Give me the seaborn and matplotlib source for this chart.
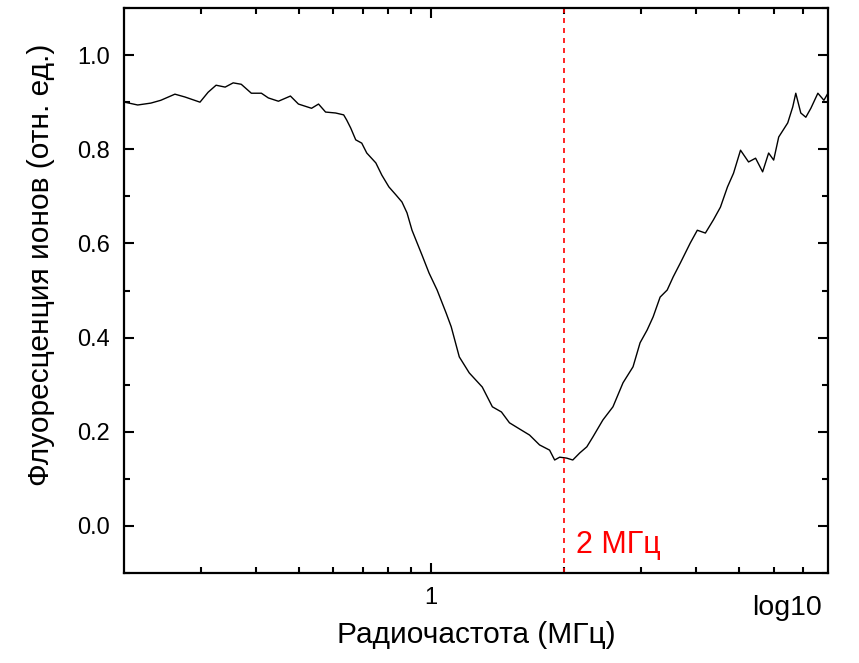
import numpy as np
import pandas as pd
import matplotlib
matplotlib.use("Agg")
import matplotlib.pyplot as plt
import seaborn as sns
from matplotlib.ticker import LogLocator, FixedLocator, NullFormatter, MultipleLocator

freq_mhz = [0.2012, 0.2154, 0.2307, 0.2431, 0.2617, 0.2758, 0.2984, 0.3113, 0.3246, 0.3404,
            0.3550, 0.3703, 0.3904, 0.4115, 0.4267, 0.4498, 0.4790, 0.4995, 0.5350, 0.5549,
            0.5757, 0.6068, 0.6329, 0.6430, 0.6567, 0.6741, 0.6957, 0.7142, 0.7489, 0.7728,
            0.8019, 0.8320, 0.8586, 0.8815, 0.9050, 0.9538, 0.9895, 1.032, 1.082, 1.111,
            1.159, 1.221, 1.307, 1.378, 1.445, 1.507, 1.588, 1.674, 1.764, 1.859,
            1.909, 1.960, 2.033, 2.099, 2.177, 2.259, 2.332, 2.418, 2.457, 2.590,
            2.730, 2.877, 2.985, 3.097, 3.196, 3.315, 3.440, 3.550, 3.683, 3.882,
            4.027, 4.201, 4.381, 4.545, 4.716, 4.867, 5.049, 5.266, 5.463, 5.668,
            5.849, 6.005, 6.166, 6.464, 6.636, 6.742, 6.921, 7.106, 7.295, 7.568,
            7.811, 7.977]
fluor = [0.900, 0.894, 0.898, 0.904, 0.917, 0.911, 0.900, 0.921, 0.936, 0.932,
         0.941, 0.938, 0.919, 0.919, 0.909, 0.902, 0.913, 0.896, 0.887, 0.896,
         0.879, 0.877, 0.873, 0.862, 0.845, 0.820, 0.813, 0.792, 0.771, 0.745,
         0.720, 0.703, 0.688, 0.665, 0.628, 0.575, 0.537, 0.501, 0.452, 0.423,
         0.359, 0.325, 0.295, 0.253, 0.242, 0.219, 0.206, 0.193, 0.172, 0.161,
         0.140, 0.146, 0.144, 0.140, 0.155, 0.168, 0.189, 0.214, 0.225, 0.253,
         0.304, 0.338, 0.389, 0.416, 0.444, 0.486, 0.501, 0.529, 0.558, 0.601,
         0.628, 0.622, 0.650, 0.677, 0.720, 0.749, 0.798, 0.773, 0.781, 0.752,
         0.792, 0.777, 0.826, 0.856, 0.890, 0.919, 0.877, 0.868, 0.887, 0.919,
         0.904, 0.919]

marker_freq = 2.0
marker_label = "2 МГц"
x_label = "Радиочастота (МГц)"
y_label = "Флуоресценция ионов (отн. ед.)"
y_ticks = [0.0, 0.2, 0.4, 0.6, 0.8, 1.0]
scale_note = "log10"

df = pd.DataFrame({"freq": freq_mhz, "fluor": fluor})

sns.set_theme(style="ticks")
plt.rcParams["font.family"] = ["Liberation Sans", "DejaVu Sans"]
plt.rcParams["text.color"] = "black"
plt.rcParams["axes.labelcolor"] = "black"
plt.rcParams["xtick.color"] = "black"
plt.rcParams["ytick.color"] = "black"

fig = plt.figure(figsize=(8.59, 6.63), dpi=100)
ax = fig.add_axes([124/859, 1-573/663, (828-124)/859, (573-8)/663])

sns.lineplot(data=df, x="freq", y="fluor", ax=ax, color="black", linewidth=1.0,
             estimator=None, sort=False)
ax.axvline(marker_freq, color="#ff0000", linestyle=(0, (3, 3)), linewidth=1.2)

ax.set_xscale("log")
ax.set_xlim(0.2005, 7.98)
ax.set_ylim(-0.1, 1.1)
ax.xaxis.set_major_locator(FixedLocator([1]))
ax.xaxis.set_major_formatter(matplotlib.ticker.FuncFormatter(lambda v, p: "1"))
ax.xaxis.set_minor_locator(LogLocator(base=10, subs=np.arange(2, 10)))
ax.xaxis.set_minor_formatter(NullFormatter())
ax.set_yticks(y_ticks)
ax.set_yticklabels([f"{v:.1f}" for v in y_ticks])
ax.yaxis.set_minor_locator(MultipleLocator(0.1))

ax.tick_params(which="both", direction="in", top=True, right=True, color="black", width=1.5,
               labelcolor="black")
ax.tick_params(which="major", length=7, labelsize=17, pad=10)
ax.tick_params(which="minor", length=4)
for s in ax.spines.values():
    s.set_linewidth(1.6)
    s.set_color("black")

ax.set_xlabel(x_label, fontsize=21.5, labelpad=9, color="black")
ax.set_ylabel(y_label, fontsize=21.5, color="black")
ax.yaxis.set_label_coords(-0.098, 0.545)

ax.text(2.14, -0.04, marker_label, color="#ff0000", fontsize=22, ha="left", va="center")
fig.text(822/859, 1-608/663, scale_note, fontsize=20.5, ha="right", va="center", color="black")

fig.savefig("out.png", dpi=100)
